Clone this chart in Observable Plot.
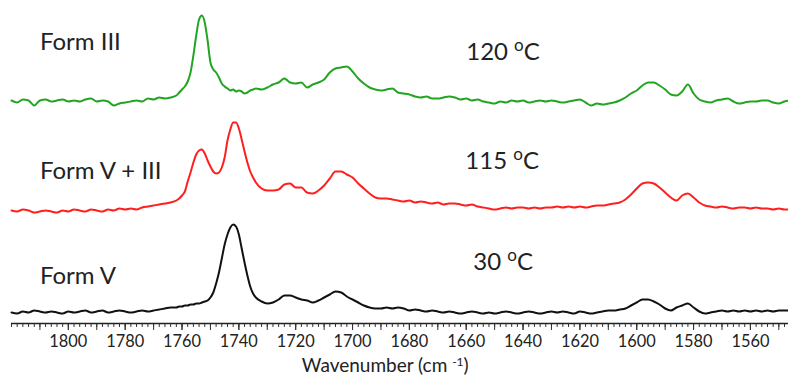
<!DOCTYPE html>
<html><head><meta charset="utf-8">
<script src="https://cdn.jsdelivr.net/npm/d3@7"></script>
<script src="https://cdn.jsdelivr.net/npm/@observablehq/plot@0.6"></script>
<style>body{margin:0;background:#fff} svg{display:block}</style>
</head><body><div id="chart"></div>
<script>
const wavenumbers = [
 1820,1818,1816,1814,1812,1810,1808,1806,1804,1802,1800,1798,1796,1794,1792,1790,1788,1786,1784,1782,1780,1778,1776,1774,1772,1770,1768,1766,1764,1762,
 1761,1760,1759,1758,1757,1756,1755,1754,1753,1752,1751,1750,1749,1748,1747,1746,1745,1744,1743,1742,1741,1740,1739,1738,1737,1736,1735,1734,
 1732,1730,1728,1726,1724,1722,1720,1718,1716,1714,1712,1710,1708,1706,1704,1702,1700,1698,1696,1694,
 1692,1690,1688,1686,1684,1682,1680,1678,1676,1674,1672,1670,1668,1666,1664,1662,1660,1658,1656,1654,
 1652,1650,1648,1646,1644,1642,1640,1638,1636,1634,1632,1630,1628,1626,1624,1622,1620,1618,1616,1614,
 1612,1610,1608,1606,1604,1602,1600,1598,1596,1594,1592,1590,1588,1586,1584,1582,1580,1578,1576,1574,
 1572,1570,1568,1566,1564,1562,1560,1558,1556,1554,1552,1550,1548,1546
];
// intensities (a.u.) relative to each spectrum's baseline
const formIII = [
 0,-2,1,0,-5,0,1,-1,0,1,-1,0,-1,1,2,-1,0,-1,-5,-3,-2,-1,0,-1,2,1,3,2,3,5,
 8,11,14,19,28,45,65,81,85,78,60,38,31,28,23,17,14,12,10,11,9,10,9,7,8,10,11,12,
 11,13,16,18,22,18,17,18,13,16,18,21,28,32,33,34,29,22,17,13,
 11,10,11,12,8,7,6,4,3,4,2,2,3,4,3,1,2,0,1,-1,
 -2,-3,-1,-2,0,-1,0,-2,-1,0,-1,0,-1,-2,-1,0,1,-2,-5,-3,
 -4,-3,-2,0,3,7,10,15,18,18,15,11,6,5,9,16,7,1,-1,-2,
 0,1,2,-1,-3,-2,-1,-1,0,0,-2,-3,-1,0
];
const formVIII = [
 -1,-2,0,-1,-3,-2,-1,-2,-3,-1,-2,0,-1,-2,0,-1,-2,0,-1,1,0,1,0,2,3,4,5,6,7,9,
 11,14,18,28,37,47,55,59,60,56,49,43,38,36,37,42,52,69,80,87,87,81,70,58,47,38,32,27,
 21,19,19,20,25,26,22,22,17,16,19,24,31,38,38,35,32,26,21,16,
 12,11,11,10,9,8,9,7,8,7,6,7,5,6,6,5,4,5,3,2,
 1,0,1,2,1,2,2,1,2,1,2,2,3,2,3,2,3,2,3,4,
 4,5,6,7,10,15,21,26,27,26,22,17,12,9,14,16,12,7,4,3,
 2,3,2,1,2,2,1,2,1,1,0,1,0,0
];
const formV = [
 -1,-2,0,-1,1,0,-1,0,-1,-2,0,-1,0,1,-1,0,1,-1,0,1,0,-1,0,1,0,1,2,3,4,4,
 5,5,6,6,7,7,8,8,9,10,11,14,19,28,39,53,67,77,84,87,85,77,63,49,36,25,18,14,
 10,8,9,12,16,16,14,12,11,9,11,14,17,20,19,15,12,9,6,4,
 3,3,4,3,4,3,1,2,1,0,1,0,-1,0,-1,-2,-1,0,-1,-2,
 -1,-2,-1,0,-1,-2,-1,0,-1,-2,-1,0,-1,0,-1,-2,0,-1,-2,-1,
 0,1,1,2,3,6,9,12,12,10,7,3,1,4,6,8,4,0,-2,-1,
 0,1,0,1,0,1,0,1,0,1,0,1,1,1
];
const seriesNames = ["Form III", "Form V + III", "Form V"];
const tempLabels = ["120 oC", "115 oC", "30 oC"];
const offsets = [223, 114, 12];
const colors = ["#22a522", "#ff1f1f", "#111111"];
const tickValues = [1800, 1780, 1760, 1740, 1720, 1700, 1680, 1660, 1640, 1620, 1600, 1580, 1560];
const axisTitle = "Wavenumber (cm -1)";

const seriesValues = [formIII, formVIII, formV];
const rows = [];
seriesValues.forEach((vals, k) => vals.forEach((v, i) =>
  rows.push({series: seriesNames[k], w: wavenumbers[i], a: v + offsets[k]})));

const formAnchors = seriesNames.map((s, k) => ({text: s, w: 1810, a: [274, 145, 40][k]}));
const tempAnchors = tempLabels.map((s, k) => ({text: s, w: [1660, 1660.3, 1657.5][k], a: [264, 155, 54][k]}));

const minorTicks = d3.range(1820, 1546, -2);
const midTicks = d3.range(1810, 1546, -10);

const plot = Plot.plot({
  width: 788, height: 382,
  marginTop: 0, marginLeft: 11, marginRight: 0, marginBottom: 59,
  style: {fontFamily: "Lato", background: "#fff", color: "#222"},
  x: {domain: [1820, 1546.6]},
  y: {domain: [0, 323], axis: null},
  color: {domain: seriesNames, range: colors},
  marks: [
    Plot.axisX(minorTicks, {tickSize: 4, tickFormat: () => "", label: null, stroke: "#333"}),
    Plot.axisX(midTicks, {tickSize: 7, tickFormat: () => "", label: null, stroke: "#333"}),
    Plot.axisX(tickValues, {tickSize: 7, tickPadding: 5, fontSize: 19, tickFormat: "d", label: null, stroke: "#333", fill: "#222"}),
    Plot.ruleY([0], {stroke: "#222", strokeWidth: 1.5}),
    Plot.line(rows, {x: "w", y: "a", z: "series", stroke: "series", strokeWidth: 2, curve: "monotone-x"}),
    Plot.text(formAnchors, {x: "w", y: "a", text: "text", textAnchor: "start", lineAnchor: "bottom", fontSize: 24, fill: "#222"}),
    Plot.text(tempAnchors, {x: "w", y: "a", text: "text", textAnchor: "start", lineAnchor: "bottom", fontSize: 24, fill: "#222"}),
    Plot.text([axisTitle], {x: 1688.5, frameAnchor: "bottom", dy: 48, lineAnchor: "bottom", fontSize: 19, fill: "#222"})
  ]
});
document.getElementById("chart").append(plot);

const NS = "http://www.w3.org/2000/svg";
function superscript(el, before, sup, after, size, raise) {
  el.textContent = before;
  const t = document.createElementNS(NS, "tspan");
  t.setAttribute("dy", -raise); t.setAttribute("font-size", size); t.textContent = sup;
  el.append(t);
  const t2 = document.createElementNS(NS, "tspan");
  t2.setAttribute("dy", raise); t2.textContent = after;
  el.append(t2);
}
const tickTexts = [];
plot.querySelectorAll("text").forEach(el => {
  const s = el.textContent.trim();
  let m = s.match(/^(\d+ )oC$/);
  if (m) superscript(el, m[1], "o", "C", 17, 8.5);
  else if (s === axisTitle) superscript(el, "Wavenumber (cm ", "-1", ")", 12, 6);
  else if (/^\d{4}$/.test(s)) tickTexts.push(el);
});
// size tick labels so that a 4-digit label is ~38px wide, as in the reference
if (tickTexts.length) {
  const probe = tickTexts[0];
  const fs = parseFloat(getComputedStyle(probe).fontSize) || 10;
  const w = probe.getBBox().width;
  const size = w > 0 ? Math.min(24, Math.max(12, fs * 38 / w)) : 19;
  tickTexts.forEach(el => { el.setAttribute("font-size", size); el.style.fontSize = size + "px"; });
}
</script>
</body></html>
